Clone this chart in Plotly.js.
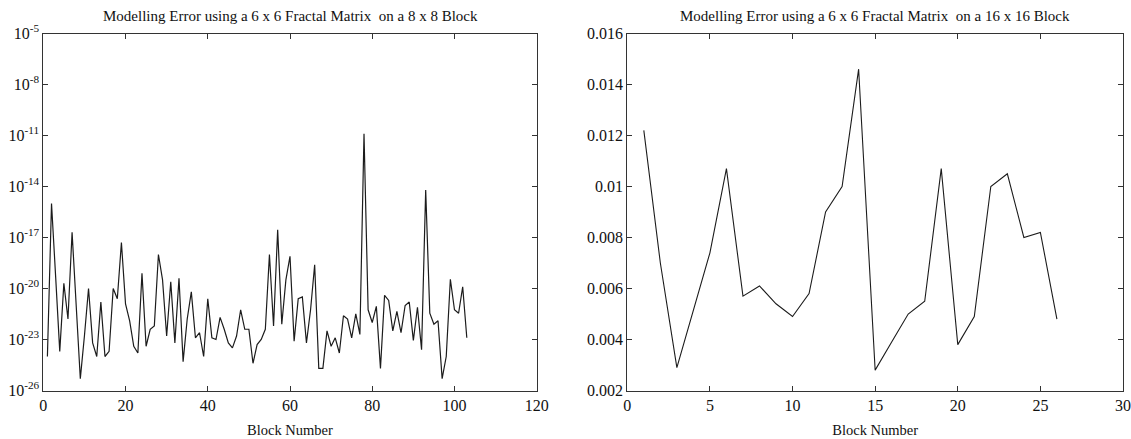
<!DOCTYPE html>
<html>
<head>
<meta charset="utf-8">
<script src="https://cdn.plot.ly/plotly-3.0.1.min.js"></script>
<style>
  html, body { margin: 0; padding: 0; background: #ffffff; }
  #chart { width: 1131px; height: 439px; }
</style>
</head>
<body>
<div id="chart"></div>
<script>
// ---- Left panel: 8 x 8 block (log scale) ----
const blocks8 = Array.from({length: 103}, (_, i) => i + 1);
const error8 = [
  1e-24, 1e-15, 5.0e-20, 2.0e-24, 2.0e-20, 1.6e-22, 2.0e-17, 1e-21, 5.0e-26, 1.6e-23,
  1e-20, 6.3e-24, 1e-24, 1.6e-21, 1e-24, 2.0e-24, 1e-20, 2.5e-21, 5.0e-18, 1.26e-21,
  1.26e-22, 4.0e-24, 1.6e-24, 7.9e-20, 4.0e-24, 4.0e-23, 6.3e-23, 1e-18, 3.2e-20, 1.6e-23,
  2.5e-20, 6.3e-24, 4.0e-20, 5.0e-25, 1.6e-22, 6.3e-21, 1.26e-23, 2.5e-23, 1e-24, 2.5e-21,
  1.26e-23, 1e-23, 2.0e-22, 4.0e-23, 6.3e-24, 3.2e-24, 1.6e-23, 5.6e-22, 4.0e-23, 4.0e-23,
  4.0e-25, 5.0e-24, 1e-23, 4.0e-23, 1e-18, 6.3e-23, 2.8e-17, 7.9e-23, 3.2e-20, 7.9e-19,
  7.9e-24, 2.5e-21, 3.2e-21, 6.3e-24, 5.6e-22, 2.5e-19, 2.0e-25, 2.0e-25, 3.2e-23, 4.0e-24,
  1.26e-23, 1.6e-24, 2.5e-22, 1.6e-22, 1.26e-23, 3.2e-22, 2.0e-23, 1.26e-11, 5.6e-22, 1e-22,
  8.9e-22, 2.0e-25, 4.0e-21, 2.0e-21, 3.2e-23, 4.5e-22, 2.5e-23, 1e-21, 1.6e-21, 8.9e-24,
  7.9e-22, 2.5e-24, 6.3e-15, 3.5e-22, 7.9e-23, 1.26e-22, 5.0e-26, 1e-24, 3.5e-20, 5.6e-22,
  3.5e-22, 1.26e-20, 1.26e-23
];
const logTickVals = [1e-5, 1e-8, 1e-11, 1e-14, 1e-17, 1e-20, 1e-23, 1e-26];
const logTickText = ['10<sup>-5</sup>', '10<sup>-8</sup>', '10<sup>-11</sup>', '10<sup>-14</sup>',
                     '10<sup>-17</sup>', '10<sup>-20</sup>', '10<sup>-23</sup>', '10<sup>-26</sup>'];
const title8 = 'Modelling Error using a 6 x 6 Fractal Matrix  on a 8 x 8 Block';

// ---- Right panel: 16 x 16 block (linear) ----
const blocks16 = Array.from({length: 26}, (_, i) => i + 1);
const error16 = [
  0.0122, 0.0070, 0.0029, 0.0052, 0.0074, 0.0107, 0.0057, 0.0061, 0.0054, 0.0049,
  0.0058, 0.0090, 0.0100, 0.0146, 0.0028, 0.0039, 0.0050, 0.0055, 0.0107, 0.0038,
  0.0049, 0.0100, 0.0105, 0.0080, 0.0082, 0.0048
];
const linTickVals = [0.002, 0.004, 0.006, 0.008, 0.01, 0.012, 0.014, 0.016];
const linTickText = ['0.002', '0.004', '0.006', '0.008', '0.01', '0.012', '0.014', '0.016'];
const title16 = 'Modelling Error using a 6 x 6 Fractal Matrix  on a 16 x 16 Block';
const xTitle = 'Block Number';

const FONT = 'Liberation Serif';
const INK = '#1c1c1c';

const traces = [
  { x: blocks8, y: error8, type: 'scatter', mode: 'lines', xaxis: 'x', yaxis: 'y',
    line: { color: INK, width: 1.2 }, showlegend: false },
  { x: blocks16, y: error16, type: 'scatter', mode: 'lines', xaxis: 'x2', yaxis: 'y2',
    line: { color: INK, width: 1.1 }, showlegend: false }
];

const axisCommon = {
  showline: true, linecolor: '#333', linewidth: 1, mirror: 'ticks',
  ticks: 'inside', ticklen: 5, tickcolor: '#333', tickwidth: 1,
  showgrid: false, zeroline: false,
  tickfont: { family: FONT, size: 16, color: '#111' }
};

const xd1 = [43.3 / 1131, 536.7 / 1131];
const xd2 = [627.3 / 1131, 1123 / 1131];
const yd = [1 - 390.5 / 439, 1 - 33.5 / 439];

const layout = {
  width: 1131, height: 439,
  margin: { l: 0, r: 0, t: 0, b: 0 },
  paper_bgcolor: '#ffffff', plot_bgcolor: '#ffffff',
  font: { family: FONT, size: 14, color: '#111' },
  xaxis: Object.assign({}, axisCommon, {
    domain: xd1, anchor: 'y', range: [0, 120], tickmode: 'linear', tick0: 0, dtick: 20,
    title: { text: xTitle, font: { family: FONT, size: 14.5, color: '#111' }, standoff: 12 }
  }),
  yaxis: Object.assign({}, axisCommon, {
    domain: yd, anchor: 'x', type: 'log', range: [-26, -5],
    tickmode: 'array', tickvals: logTickVals, ticktext: logTickText
  }),
  xaxis2: Object.assign({}, axisCommon, {
    domain: xd2, anchor: 'y2', range: [0, 30], tickmode: 'linear', tick0: 0, dtick: 5,
    title: { text: xTitle, font: { family: FONT, size: 14.5, color: '#111' }, standoff: 12 }
  }),
  yaxis2: Object.assign({}, axisCommon, {
    domain: yd, anchor: 'x2', range: [0.002, 0.016],
    tickmode: 'array', tickvals: linTickVals, ticktext: linTickText
  }),
  annotations: [
    { text: title8, xref: 'paper', yref: 'paper', x: (xd1[0] + xd1[1]) / 2, y: 1 - 16 / 439,
      xanchor: 'center', yanchor: 'middle', showarrow: false,
      font: { family: FONT, size: 15, color: '#111' } },
    { text: title16, xref: 'paper', yref: 'paper', x: (xd2[0] + xd2[1]) / 2, y: 1 - 16 / 439,
      xanchor: 'center', yanchor: 'middle', showarrow: false,
      font: { family: FONT, size: 15, color: '#111' } }
  ]
};

Plotly.newPlot('chart', traces, layout, { staticPlot: true, displayModeBar: false });
</script>
</body>
</html>
